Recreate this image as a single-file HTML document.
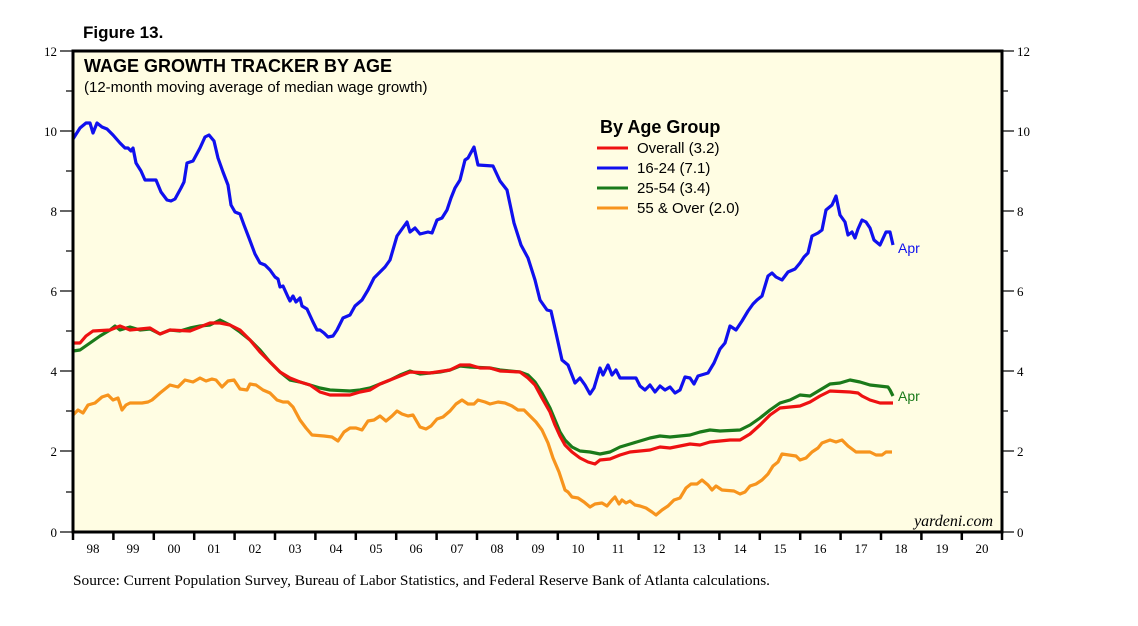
<!DOCTYPE html>
<html><head><meta charset="utf-8"><style>body{margin:0;background:#fff;width:1138px;height:621px;overflow:hidden}</style></head><body>
<svg width="1138" height="621" xmlns="http://www.w3.org/2000/svg" font-family="Liberation Sans, sans-serif">
<rect x="73" y="51" width="929" height="481" fill="#fffde3"/>
<g stroke="#000" stroke-width="1.2">
<line x1="60" y1="51" x2="73" y2="51"/><line x1="60" y1="131" x2="73" y2="131"/><line x1="60" y1="211" x2="73" y2="211"/><line x1="60" y1="291" x2="73" y2="291"/><line x1="60" y1="371" x2="73" y2="371"/><line x1="60" y1="451" x2="73" y2="451"/><line x1="60" y1="532" x2="73" y2="532"/>
<line x1="66" y1="91" x2="73" y2="91"/><line x1="66" y1="171" x2="73" y2="171"/><line x1="66" y1="251" x2="73" y2="251"/><line x1="66" y1="331" x2="73" y2="331"/><line x1="66" y1="411" x2="73" y2="411"/><line x1="66" y1="492" x2="73" y2="492"/>
<line x1="1002" y1="51" x2="1014" y2="51"/><line x1="1002" y1="131" x2="1014" y2="131"/><line x1="1002" y1="211" x2="1014" y2="211"/><line x1="1002" y1="291" x2="1014" y2="291"/><line x1="1002" y1="371" x2="1014" y2="371"/><line x1="1002" y1="451" x2="1014" y2="451"/><line x1="1002" y1="532" x2="1014" y2="532"/>
<line x1="1002" y1="91" x2="1008" y2="91"/><line x1="1002" y1="171" x2="1008" y2="171"/><line x1="1002" y1="251" x2="1008" y2="251"/><line x1="1002" y1="331" x2="1008" y2="331"/><line x1="1002" y1="411" x2="1008" y2="411"/><line x1="1002" y1="492" x2="1008" y2="492"/>
</g>
<g stroke="#000" stroke-width="2.5">
<path d="M73.0,532v8M113.4,532v8M153.8,532v8M194.2,532v8M234.6,532v8M275.0,532v8M315.4,532v8M355.8,532v8M396.2,532v8M436.6,532v8M477.0,532v8M517.4,532v8M557.8,532v8M598.2,532v8M638.6,532v8M679.0,532v8M719.4,532v8M759.8,532v8M800.2,532v8M840.6,532v8M881.0,532v8M921.4,532v8M961.8,532v8M1002,532v8"/>
</g>
<g font-family="Liberation Serif, serif" font-size="13" fill="#000">
<g text-anchor="end"><text x="57" y="56">12</text><text x="57" y="136">10</text><text x="57" y="216">8</text><text x="57" y="296">6</text><text x="57" y="376">4</text><text x="57" y="456">2</text><text x="57" y="537">0</text></g>
<text x="1017" y="56">12</text><text x="1017" y="136">10</text><text x="1017" y="216">8</text><text x="1017" y="296">6</text><text x="1017" y="376">4</text><text x="1017" y="456">2</text><text x="1017" y="537">0</text>
<g text-anchor="middle"><text x="93" y="553">98</text><text x="133" y="553">99</text><text x="174" y="553">00</text><text x="214" y="553">01</text><text x="255" y="553">02</text><text x="295" y="553">03</text><text x="336" y="553">04</text><text x="376" y="553">05</text><text x="416" y="553">06</text><text x="457" y="553">07</text><text x="497" y="553">08</text><text x="538" y="553">09</text><text x="578" y="553">10</text><text x="618" y="553">11</text><text x="659" y="553">12</text><text x="699" y="553">13</text><text x="740" y="553">14</text><text x="780" y="553">15</text><text x="820" y="553">16</text><text x="861" y="553">17</text><text x="901" y="553">18</text><text x="942" y="553">19</text><text x="982" y="553">20</text></g>
<text x="73" y="585" font-size="15" textLength="697" lengthAdjust="spacingAndGlyphs">Source: Current Population Survey, Bureau of Labor Statistics, and Federal Reserve Bank of Atlanta calculations.</text>
<text x="993" y="526" font-size="16" font-style="italic" text-anchor="end">yardeni.com</text>
</g>
<g fill="none" stroke-width="3.2" stroke-linejoin="round">
<polyline stroke="#f7941d" points="73,415 78,410 83,413 88,405 95,403 102,397 108,395 113,400 118,398 122,410 126,405 130,403 142,403 148,402 152,400 160,393 170,385 178,387 185,380 193,382 200,378 206,381 212,379 216,380 222,387 228,381 234,380 240,389 247,390 250,384 256,385 263,390 270,393 277,400 283,402 288,402 293,407 300,420 306,428 312,435 324,436 332,437 338,441 344,432 350,428 356,428 362,430 368,421 374,420 380,416 386,421 392,416 397,411 402,414 408,416 413,415 420,427 426,429 431,426 437,419 443,417 450,411 456,404 462,400 468,404 474,404 478,400 485,402 490,404 498,402 505,403 512,406 518,410 524,410 530,416 536,422 542,430 548,443 553,458 559,472 565,490 568,492 572,497 578,498 584,502 590,507 595,504 602,503 607,506 612,500 615,497 619,504 622,500 626,503 630,501 635,505 640,506 646,508 652,512 656,515 662,510 668,506 674,500 680,498 686,488 691,484 697,484 702,480 708,485 712,490 716,486 722,490 734,491 740,494 745,492 750,486 756,484 762,480 768,474 773,466 778,462 782,454 796,456 800,460 806,458 812,452 818,448 822,443 830,440 836,442 842,440 848,446 856,452 870,452 876,455 882,455 886,452 892,452"/>
<polyline stroke="#1a7a1a" points="73,351 80,350 90,343 100,336 110,330 115,326 120,330 130,327 140,330 150,329 160,334 170,330 180,331 190,328 200,326 210,325 220,320 230,325 240,332 250,340 260,350 270,362 280,372 290,380 300,382 310,385 320,388 330,390 350,391 360,390 370,388 380,384 390,380 400,375 410,371 420,374 430,373 440,372 450,370 460,366 470,367 490,368 500,370 510,371 520,372 528,375 535,382 542,393 550,408 555,420 560,432 565,440 572,447 580,451 590,452 600,454 610,452 620,447 630,444 640,441 650,438 660,436 670,437 690,435 700,432 710,430 720,431 740,430 750,425 760,418 770,410 780,403 790,400 800,395 810,396 820,390 830,384 840,383 850,380 860,382 870,385 888,387 890,390 893,396"/>
<polyline stroke="#ee1111" points="73,343 80,343 86,336 93,331 110,330 120,326 130,330 150,328 160,334 170,330 190,331 200,327 210,323 220,323 230,325 240,330 250,340 260,352 270,362 280,372 290,378 300,382 310,385 320,392 330,395 350,395 360,392 370,390 380,384 390,380 400,376 410,372 430,373 450,370 460,365 470,365 480,368 490,368 500,371 520,372 528,378 535,385 542,398 550,412 555,425 560,436 565,445 572,452 580,458 588,462 595,464 600,460 610,459 620,455 630,452 650,450 660,447 670,448 690,444 700,445 710,442 730,440 740,440 750,434 760,425 770,415 780,408 800,406 810,402 820,396 830,391 850,392 858,393 862,396 870,400 880,403 893,403"/>
<polyline stroke="#1010ee" points="73,139 80,128 86,123 90,123 93,133 97,123 102,127 107,129 113,135 120,143 125,148 128,148 131,151 133,148 136,163 141,171 145,180 156,180 161,192 167,200 171,201 175,199 181,188 184,182 187,163 193,161 200,148 205,137 209,135 214,141 218,158 223,172 228,185 231,205 235,212 240,214 244,225 249,238 255,254 260,263 265,265 270,270 275,277 278,279 280,287 283,286 288,297 290,301 293,296 296,302 300,298 302,306 307,309 313,322 317,330 320,330 324,333 328,337 333,336 337,330 343,318 350,315 355,306 362,300 368,290 374,278 380,272 385,267 390,260 397,236 402,229 407,222 410,232 415,228 420,234 428,232 432,233 437,220 442,218 447,210 451,198 455,188 460,180 465,160 468,158 474,147 478,165 493,166 500,181 507,190 514,223 521,245 528,258 535,280 540,300 547,310 551,311 556,333 562,360 568,365 575,383 580,378 585,385 590,394 594,388 600,368 603,375 608,365 612,375 616,370 620,378 636,378 640,386 645,390 650,385 655,392 660,386 665,390 670,387 675,393 680,390 685,377 690,378 694,384 698,376 708,373 714,363 720,349 725,343 730,326 736,330 742,321 748,311 753,304 757,300 762,296 768,276 772,273 776,277 782,280 788,272 795,269 800,263 804,257 808,253 812,236 818,233 822,230 826,210 832,205 836,196 840,215 845,222 848,235 852,232 855,238 858,229 862,220 866,222 870,228 874,240 880,245 886,232 890,232 893,245"/>
</g>
<rect x="73" y="51" width="929" height="481" fill="none" stroke="#000" stroke-width="3"/>
<text x="83" y="38" font-size="17" font-weight="bold">Figure 13.</text>
<text x="84" y="72" font-size="18" font-weight="bold">WAGE GROWTH TRACKER BY AGE</text>
<text x="84" y="92" font-size="15">(12-month moving average of median wage growth)</text>
<text x="600" y="133" font-size="18" font-weight="bold">By Age Group</text>
<g stroke-width="3"><line x1="597" y1="148" x2="628" y2="148" stroke="#ee1111"/><line x1="597" y1="168" x2="628" y2="168" stroke="#1010ee"/><line x1="597" y1="188" x2="628" y2="188" stroke="#1a7a1a"/><line x1="597" y1="208" x2="628" y2="208" stroke="#f7941d"/></g>
<g font-size="15"><text x="637" y="153">Overall (3.2)</text><text x="637" y="173">16-24 (7.1)</text><text x="637" y="193">25-54 (3.4)</text><text x="637" y="213">55 &amp; Over (2.0)</text></g>
<text x="898" y="253" font-size="14" fill="#1010ee">Apr</text>
<text x="898" y="401" font-size="14" fill="#1a7a1a">Apr</text>
</svg>
</body></html>
